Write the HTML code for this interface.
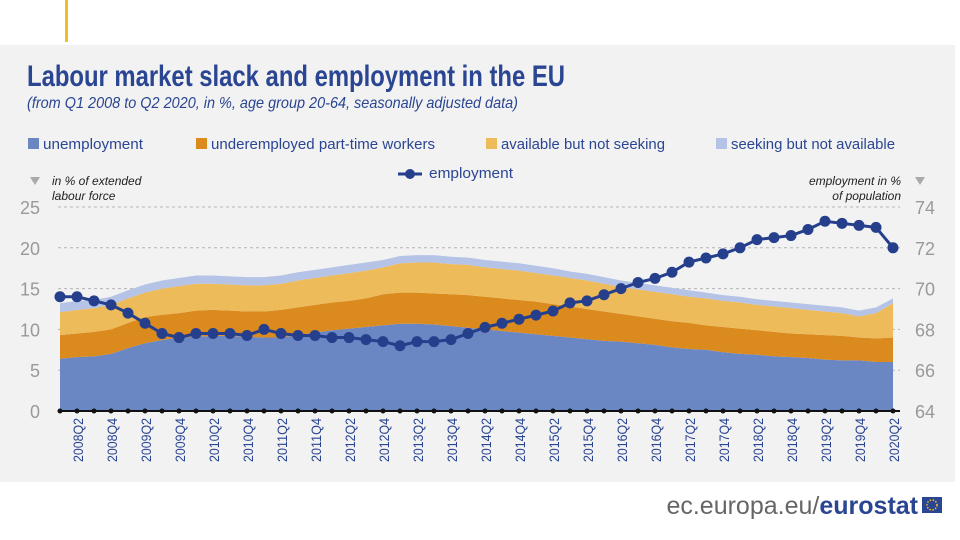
<!DOCTYPE html>
<html><head><meta charset="utf-8"><style>
body{margin:0;background:#fff;}
svg{display:block;font-family:"Liberation Sans",sans-serif;}
</style></head><body>
<svg id="c" width="960" height="540" viewBox="0 0 960 540">
<rect x="0" y="45" width="955" height="437" fill="#f2f2f2"/>
<rect x="65" y="0" width="3" height="42" fill="#f0c020"/>
<text x="27" y="86" font-size="30" font-weight="bold" fill="#2a4592" textLength="538" lengthAdjust="spacingAndGlyphs">Labour market slack and employment in the EU</text>
<text x="27" y="108" font-size="16" font-style="italic" fill="#2a4592" textLength="491" lengthAdjust="spacingAndGlyphs">(from Q1 2008 to Q2 2020, in %, age group 20-64, seasonally adjusted data)</text>
<g font-size="15" fill="#2a4592">
<rect x="28" y="138" width="11" height="11" fill="#6a87c4"/>
<text x="43" y="149" textLength="100" lengthAdjust="spacingAndGlyphs">unemployment</text>
<rect x="196" y="138" width="11" height="11" fill="#db8a1e"/>
<text x="211" y="149" textLength="224" lengthAdjust="spacingAndGlyphs">underemployed part-time workers</text>
<rect x="486" y="138" width="11" height="11" fill="#edbb5a"/>
<text x="501" y="149" textLength="164" lengthAdjust="spacingAndGlyphs">available but not seeking</text>
<rect x="716" y="138" width="11" height="11" fill="#b5c3e6"/>
<text x="731" y="149" textLength="164" lengthAdjust="spacingAndGlyphs">seeking but not available</text>
<line x1="398" y1="174" x2="422" y2="174" stroke="#263f8c" stroke-width="3"/>
<circle cx="410" cy="174" r="5" fill="#263f8c"/>
<text x="429" y="178" textLength="84" lengthAdjust="spacingAndGlyphs">employment</text>
</g>
<polygon points="30,177 40,177 35,185" fill="#aaa"/>
<text x="52" y="185" font-size="12" font-style="italic" fill="#222"><tspan x="52">in % of extended</tspan><tspan x="52" dy="15">labour force</tspan></text>
<polygon points="915,177 925,177 920,185" fill="#aaa"/>
<text x="901" y="185" font-size="12" font-style="italic" fill="#222" text-anchor="end"><tspan x="901">employment in %</tspan><tspan x="901" dy="15">of population</tspan></text>
<g id="grid"></g><g id="areas"></g><g id="axes"></g><g id="line"></g>
<text x="918" y="514" font-size="25" fill="#666" text-anchor="end">ec.europa.eu/<tspan font-weight="bold" fill="#2a4592">eurostat</tspan></text>
<rect x="922" y="497" width="20" height="16" fill="#2a4592"/>
<circle cx="932" cy="505" r="5" fill="none" stroke="#f0c020" stroke-width="1.5" stroke-dasharray="1.5 1.5"/>
</svg>
<script>
const quarters=[];for(let y=2008;y<=2020;y++)for(let q=1;q<=4;q++){if(y===2020&&q>2)break;quarters.push(y+'Q'+q);}
const unemployment=[6.4,6.6,6.7,7.0,7.7,8.3,8.7,9.0,9.1,9.2,9.2,9.1,9.0,9.0,9.3,9.6,9.9,10.1,10.3,10.5,10.7,10.7,10.6,10.4,10.2,
10.0,9.8,9.6,9.4,9.2,9.0,8.8,8.6,8.5,8.3,8.1,7.8,7.6,7.5,7.2,7.0,6.9,6.7,6.6,6.5,6.3,6.2,6.2,6.0,6.0];
const underemployed=[2.9,2.9,3.0,3.0,3.1,3.2,3.1,3.0,3.2,3.2,3.1,3.1,3.2,3.4,3.4,3.4,3.4,3.4,3.5,3.8,3.8,3.8,3.8,3.9,4.0,
4.0,4.0,4.0,4.0,3.9,3.8,3.7,3.6,3.4,3.3,3.2,3.2,3.2,3.0,3.1,3.1,3.0,3.0,2.9,2.9,3.0,3.0,2.8,2.9,3.0];
const available=[2.8,2.9,2.9,3.0,3.0,3.0,3.2,3.3,3.3,3.2,3.2,3.2,3.2,3.2,3.3,3.3,3.3,3.4,3.4,3.3,3.6,3.7,3.8,3.7,3.7,
3.6,3.6,3.6,3.5,3.5,3.5,3.5,3.4,3.3,3.3,3.3,3.3,3.2,3.3,3.2,3.2,3.1,3.1,3.1,3.0,2.9,2.8,2.6,3.1,4.2];
const seeking=[1.1,1.1,1.0,1.0,1.0,1.0,1.0,1.0,1.0,1.0,1.0,1.0,1.0,1.0,1.0,1.0,1.0,1.0,1.0,0.9,0.9,0.9,0.9,0.9,0.9,
0.9,0.9,0.9,0.9,0.9,0.8,0.8,0.8,0.8,0.8,0.8,0.8,0.8,0.7,0.7,0.7,0.7,0.7,0.7,0.7,0.7,0.7,0.7,0.7,0.6];
const employment=[69.6,69.6,69.4,69.2,68.8,68.3,67.8,67.6,67.8,67.8,67.8,67.7,68.0,67.8,67.7,67.7,67.6,67.6,67.5,67.4,67.2,67.4,67.4,67.5,67.8,
68.1,68.3,68.5,68.7,68.9,69.3,69.4,69.7,70.0,70.3,70.5,70.8,71.3,71.5,71.7,72.0,72.4,72.5,72.6,72.9,73.3,73.2,73.1,73.0,72.0];
const leftTicks=[0,5,10,15,20,25];
const rightTicks=[64,66,68,70,72,74];
const NS='http://www.w3.org/2000/svg';
const X0=60,X1=893,Y0=411,Y1=207;
const x=i=>X0+(X1-X0)*i/(quarters.length-1);
const yL=v=>Y0-(Y0-Y1)*(v-0)/(25-0);
const yR=v=>Y0-(Y0-Y1)*(v-64)/(74-64);
function mk(tag,attrs,parent){const e=document.createElementNS(NS,tag);for(const k in attrs)e.setAttribute(k,attrs[k]);document.getElementById(parent).appendChild(e);return e;}
leftTicks.forEach((t,k)=>{
 if(t>0){const g=mk('line',{x1:58,x2:900,y1:yL(t),y2:yL(t),stroke:'#b5b5b5','stroke-dasharray':'3 3'},'grid');
 
 }
 const l=mk('text',{x:40,y:yL(t)+7,'font-size':18,fill:'#999','text-anchor':'end'},'axes');l.textContent=t;
 
 
 const r=mk('text',{x:915,y:yR(rightTicks[k])+7,'font-size':18,fill:'#999'},'axes');r.textContent=rightTicks[k];
 
 
});
const series=[[unemployment,'#6a87c4','area-unemployment'],[underemployed,'#db8a1e','area-underemployed'],[available,'#edbb5a','area-available'],[seeking,'#b5c3e6','area-seeking']];
let base=quarters.map(()=>0);
series.forEach(([vals,col,name])=>{
 const top=base.map((b,i)=>b+vals[i]);
 let pts=top.map((v,i)=>x(i)+','+yL(v)).join(' ')+' '+base.map((v,i)=>x(i)+','+yL(v)).reverse().join(' ');
 const p=mk('polygon',{points:pts,fill:col},'areas');
 
 
 base=top;
});
const ax=mk('line',{x1:58,x2:900,y1:Y0,y2:Y0,stroke:'#111','stroke-width':2},'axes');


quarters.forEach((q,i)=>{
 const d=mk('circle',{cx:x(i),cy:Y0,r:2.5,fill:'#111'},'axes');
 
 
 if(i%2===1){const t=mk('text',{transform:`translate(${x(i)+6},418) rotate(-90)`,'font-size':14,fill:'#2a4592','text-anchor':'end',textLength:44,lengthAdjust:'spacingAndGlyphs'},'axes');t.textContent=q;
 
 }
});
const ln=mk('polyline',{points:employment.map((v,i)=>x(i)+','+yR(v)).join(' '),fill:'none',stroke:'#263f8c','stroke-width':3},'line');


employment.forEach((v,i)=>{const c=mk('circle',{cx:x(i),cy:yR(v),r:5.5,fill:'#263f8c'},'line');
 
 });
</script>
</body></html>
